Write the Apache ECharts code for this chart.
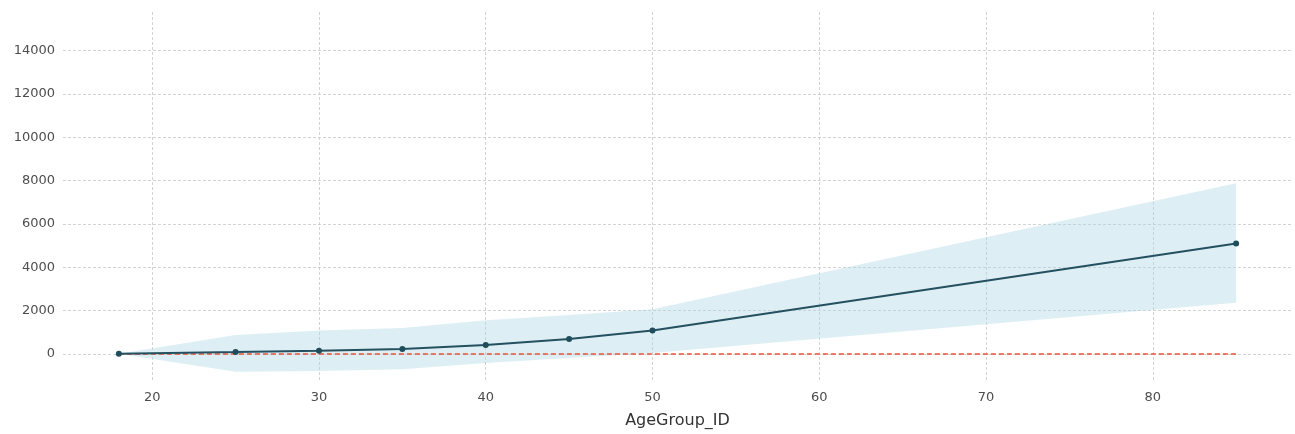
<!DOCTYPE html>
<html>
<head>
<meta charset="utf-8">
<script src="https://cdn.jsdelivr.net/npm/echarts@6/dist/echarts.min.js"></script>
<style>
html,body{margin:0;padding:0;background:#fff;}
#chart{width:1295px;height:434px;}
</style>
</head>
<body>
<div id="chart"></div>
<script>
// Data
const ageGroups = [18, 25, 30, 35, 40, 45, 50, 85];
const meanValues = [10, 90, 155, 230, 410, 690, 1080, 5100];
const upperValues = [10, 880, 1080, 1200, 1560, 1800, 2060, 7880];
const lowerValues = [10, -820, -790, -700, -420, -180, 50, 2360];
const refLineX = [18, 85];
const refLineY = [0, 0];

const bandData = ageGroups.map((x, i) => [x, lowerValues[i], upperValues[i]]);
const meanData = ageGroups.map((x, i) => [x, meanValues[i]]);
const refData = refLineX.map((x, i) => [x, refLineY[i]]);

const gridLine = { show: true, showMinLine: false, showMaxLine: false,
  lineStyle: { color: '#c8c8c8', width: 0.8, type: [3, 2] } };

function renderBand(params, api) {
  if (params.dataIndex !== 0) return null;
  const pts = [];
  for (let i = 0; i < bandData.length; i++) pts.push(api.coord([bandData[i][0], bandData[i][2]]));
  for (let i = bandData.length - 1; i >= 0; i--) pts.push(api.coord([bandData[i][0], bandData[i][1]]));
  return {
    type: 'polygon',
    shape: { points: pts },
    style: { fill: 'rgba(173,216,230,0.42)', stroke: null }
  };
}

const chart = echarts.init(document.getElementById('chart'), null, { renderer: 'canvas' });
chart.setOption({
  animation: false,
  backgroundColor: '#ffffff',
  grid: { left: 63, right: 3, top: 12, bottom: 49, containLabel: false },
  xAxis: {
    type: 'value',
    min: 14.65,
    max: 88.35,
    splitNumber: 7,
    name: 'AgeGroup_ID',
    nameLocation: 'middle',
    nameGap: 32,
    nameTextStyle: { fontFamily: 'DejaVu Sans', fontSize: 16, color: '#333333' },
    axisLine: { show: false },
    axisTick: { show: false },
    axisLabel: { showMinLabel: false, showMaxLabel: false, margin: 10,
      fontFamily: 'DejaVu Sans', fontSize: 13, color: '#4d4d4d',
      formatter: v => String(v) },
    splitLine: gridLine
  },
  yAxis: {
    type: 'value',
    min: -1246,
    max: 15785,
    splitNumber: 8,
    axisLine: { show: false },
    axisTick: { show: false },
    axisLabel: { showMinLabel: false, showMaxLabel: false, margin: 8,
      fontFamily: 'DejaVu Sans', fontSize: 13, color: '#4d4d4d',
      formatter: v => String(v) },
    splitLine: gridLine
  },
  series: [
    {
      type: 'custom', data: bandData, renderItem: renderBand,
      encode: { x: 0, y: [1, 2] }, silent: true, z: 1
    },
    {
      type: 'line', data: refData, symbol: 'none', z: 2,
      lineStyle: { color: '#e5533a', width: 1.3, type: [5, 3] }
    },
    {
      type: 'line', data: meanData, z: 3,
      symbol: 'circle', symbolSize: 6,
      itemStyle: { color: '#1f4d5c' },
      lineStyle: { color: '#24505f', width: 2 }
    }
  ]
});
</script>
</body>
</html>
